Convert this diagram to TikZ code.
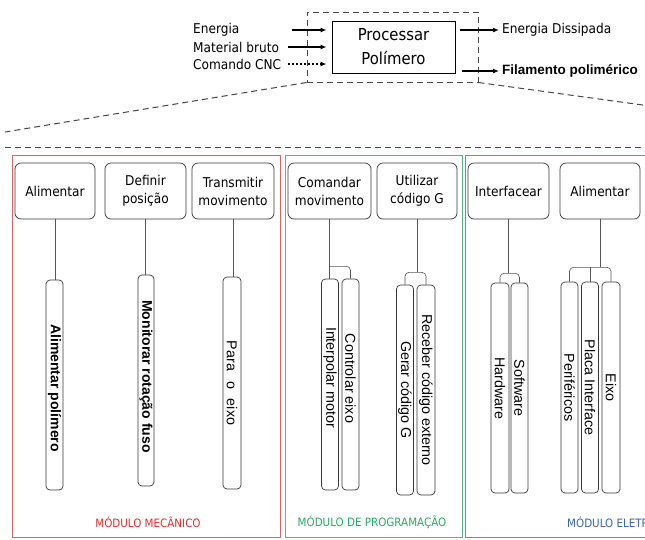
\documentclass[tikz,border=0pt]{standalone}
\usepackage{fontspec}
\setmainfont{DejaVu Sans Condensed}
\newfontfamily\arialf{Liberation Sans}
\usetikzlibrary{arrows.meta,calc}
\definecolor{redm}{RGB}{214,100,108}
\definecolor{redt}{RGB}{226,46,46}
\definecolor{greenm}{RGB}{80,185,140}
\definecolor{greent}{RGB}{40,170,100}
\definecolor{bluem}{RGB}{110,140,180}
\definecolor{bluet}{RGB}{60,100,165}
\definecolor{edge}{RGB}{55,55,55}
\newcommand\mkvb[5]{\node[vbox, minimum width={#4-#3}, minimum height=#5] (#1) at (#2,{(#3+#4)/2}) {};}
\begin{document}
\begin{tikzpicture}[x=1pt,y=-1pt,
 fnbox/.style={draw=edge, line width=0.7pt, rounded corners=6pt, minimum height=56pt, inner sep=0pt, align=center, font=\fontsize{13.5}{18}\selectfont},
 vbox/.style={draw=edge, line width=0.7pt, rounded corners=4pt, rotate=-90, inner sep=0pt},
 vtext/.style={rotate=-90, inner sep=0pt, font=\arialf\fontsize{14.3}{15}\selectfont},
 vbold/.style={rotate=-90, inner sep=0pt, font=\arialf\bfseries\fontsize{14}{15}\selectfont},
 conn/.style={draw=edge!85, line width=0.6pt},
 fork/.style={conn, rounded corners=4pt},
 dsh/.style={draw=black!72, line width=1pt, dash pattern=on 6pt off 4pt},
 flow/.style={line width=1.4pt, -{Latex[length=6pt,width=5pt]}},
 lbl/.style={font=\fontsize{13.5}{16}\selectfont, inner sep=0pt, anchor=west},
 modl/.style={font=\fontsize{11.5}{14}\selectfont, inner sep=0pt},
]
\useasboundingbox (0,0) rectangle (645,539);
\clip (0,0) rectangle (645,539);
\fill[white] (0,0) rectangle (645,539);

% ---- top level ----
\node[draw=black, line width=0.9pt, minimum width=123pt, minimum height=52pt, align=center, inner sep=0pt, font=\fontsize{16.5}{24}\selectfont] (proc) at (393.5,47) {Processar\\Polímero};
\node[dsh, minimum width=171pt, minimum height=70pt, inner sep=0pt] (dbox) at (392.5,47) {};

\node[lbl] (in1) at (193,30) {Energia};
\node[lbl] (in2) at (193,47) {Material bruto};
\node[lbl] (in3) at (193,64) {Comando CNC};
\coordinate (a1) at (292,30);
\coordinate (a2) at (288,47);
\coordinate (a3) at (288,64);
\draw[flow, shorten >=5pt] (a1) -- (a1 -| proc.west);
\draw[flow, shorten >=5pt] (a2) -- (a2 -| proc.west);
\draw[flow, shorten >=5pt, dash pattern=on 2pt off 2pt] (a3) -- (a3 -| proc.west);

\node[lbl] (out1) at (502,30) {Energia Dissipada};
\node[lbl, font=\arialf\bfseries\fontsize{13.5}{16}\selectfont] (out2) at (502,71) {Filamento polimérico};
\draw[flow, shorten <=5pt, shorten >=3pt] (proc.east |- out1) -- (out1.west);
\draw[flow, shorten <=7pt, shorten >=3pt] (proc.east |- out2) -- (out2.west);

\draw[dsh] (dbox.south west) -- (5,132);
\draw[dsh] (dbox.south east) -- (650,106);
\draw[dsh] (5,147) -- (645,147);

% ---- modules ----
\draw[redm, line width=0.8pt] (12,155) rectangle (280,537);
\draw[greenm, line width=0.8pt] (285,155) rectangle (462,537);
\draw[bluem, line width=0.8pt] (465,155) rectangle (660,537);
\node[modl, text=redt] (lM) at (148,522) {MÓDULO MECÂNICO};
\node[modl, text=greent] (lP) at (372,522) {MÓDULO DE PROGRAMAÇÃO};
\node[modl, text=bluet, anchor=west] (lE) at (567,522) {MÓDULO ELETRÔNICO};

% ---- function boxes ----
\node[fnbox, minimum width=80pt] (M1) at (55,191) {Alimentar};
\node[fnbox, minimum width=81pt] (M2) at (145.5,191) {Definir\\posição};
\node[fnbox, minimum width=82pt] (M3) at (233,191) {Transmitir\\movimento};
\node[fnbox, minimum width=83pt] (P1) at (329.5,191) {Comandar\\movimento};
\node[fnbox, minimum width=80pt] (P2) at (417,191) {Utilizar\\código G};
\node[fnbox, minimum width=81pt] (E1) at (508.5,191) {Interfacear};
\node[fnbox, minimum width=80pt] (E2) at (600,191) {Alimentar};

% ---- vertical boxes ----
\mkvb{vA}{54.5}{280}{490}{17}
\mkvb{vM}{146}{275}{486}{16}
\mkvb{vP}{232}{277}{489}{18}
\mkvb{vI}{330}{279}{490}{17}
\mkvb{vC}{350.5}{279}{490}{17}
\mkvb{vG}{405}{285}{495}{17}
\mkvb{vR}{426}{285}{495}{18}
\mkvb{vH}{500}{283}{493}{18}
\mkvb{vS}{519.5}{283}{493}{17}
\mkvb{vPe}{569.5}{282}{493}{17}
\mkvb{vPl}{590}{282}{493}{17}
\mkvb{vE}{611}{282}{493}{18}

\node[vbold] (tA) at ($(vA.center)+(0,3)$) {Alimentar polímero};
\node[vbold] (tM) at ($(vM.center)+(0,-4)$) {Monitorar rotação fuso};
\node[vtext] (tP) at (vP.center) {Para\hspace{10pt}o\hspace{10pt}eixo};
\node[vtext] (tI) at ($(vI.center)+(0,-7)$) {Interpolar motor};
\node[vtext] (tC) at ($(vC.center)+(0,-6)$) {Controlar eixo};
\node[vtext] (tG) at (vG.center) {Gerar código G};
\node[vtext] (tR) at (vR.center) {Receber código externo};
\node[vtext] (tH) at (vH.center) {Hardware};
\node[vtext] (tS) at (vS.center) {Software};
\node[vtext] (tPe) at (vPe.center) {Periféricos};
\node[vtext] (tPl) at (vPl.center) {Placa Interface};
\node[vtext] (tE) at (vE.center) {Eixo};

% ---- connectors ----
\draw[conn] (M1.south) -- (M1.south |- vA.west);
\draw[conn] (M2.south) -- (M2.south |- vM.west);
\draw[conn] (M3.south) -- (M3.south |- vP.west);

\coordinate (jP1) at ($(P1.south)+(0,47)$);
\draw[conn] (P1.south) -- (P1.south |- vI.west);
\draw[fork] (jP1) -| (vC.west);

\coordinate (jP2) at ($(P2.south)+(0,53)$);
\draw[conn] (P2.south) -- (jP2);
\draw[fork] (vG.west) |- (jP2) -| (vR.west);

\coordinate (jE1) at ($(E1.south)+(0,54)$);
\draw[conn] (E1.south) -- (jE1);
\draw[fork] (vH.west) |- (jE1) -| (vS.west);

\coordinate (jE2) at ($(E2.south)+(0,48)$);
\draw[conn] (E2.south) -- (jE2);
\draw[fork] (vPe.west) |- (jE2) -| (vE.west);
\draw[conn] (vPl.west) -- (vPl.west |- jE2);
\end{tikzpicture}
\end{document}
